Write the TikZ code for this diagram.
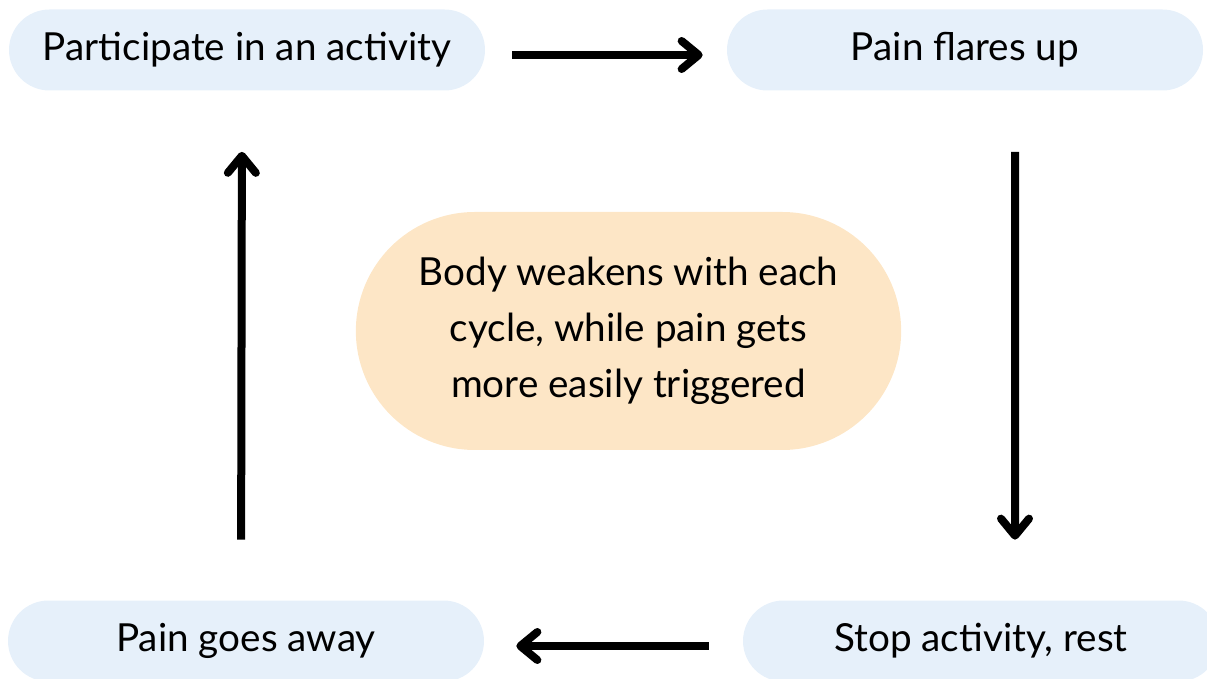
\documentclass[tikz,border=0pt]{standalone}
\usepackage{fontspec}
\setmainfont{Lato}
\usetikzlibrary{arrows.meta, shapes.misc}

\definecolor{stepblue}{HTML}{E6F0FA}
\definecolor{noteorange}{HTML}{FDE6C6}

\tikzset{
  stepbox/.style={rounded rectangle, fill=stepblue, minimum width=9.52cm,
    minimum height=1.62cm, inner sep=0pt, font=\fontsize{22}{26}\selectfont},
  flow/.style={line width=0.16cm, -{Straight Barb[round, length=0.34cm, width=0.56cm]}},
}

\begin{document}
\begin{tikzpicture}
        \clip (0, 0) rectangle (24.14, -13.58);

        \node[stepbox] (act) at (4.94, -1.0) {Participate in an activity};
        \node[stepbox] (flare) at (19.3, -1.0) {Pain flares up};
        \node[stepbox] (stop) at (19.62, -12.82) {Stop activity, rest};
        \node[stepbox] (away) at (4.92, -12.82) {Pain goes away};

        \node[rounded rectangle, fill=noteorange, minimum width=11.14cm, minimum height=4.76cm,
          align=center, font=\fontsize{22}{32}\selectfont] (note) at (12.57, -6.62)
          {Body weakens with each\\cycle, while pain gets\\more easily triggered};

        \draw[flow, shorten <=0.54cm, shorten >=0.48cm] ([yshift=-0.1cm]act.east) -- ([yshift=-0.1cm]flare.west);
        \draw[flow, shorten <=1.22cm, shorten >=1.21cm] ([xshift=1cm]flare.south) -- ([xshift=0.68cm]stop.north);
        \draw[flow, shorten <=0.68cm, shorten >=0.64cm] ([yshift=-0.1cm]stop.west) -- ([yshift=-0.1cm]away.east);
        \draw[flow, shorten <=1.21cm, shorten >=1.22cm] ([xshift=-0.1cm]away.north) -- ([xshift=-0.1cm]act.south);
      \end{tikzpicture}
\end{document}
